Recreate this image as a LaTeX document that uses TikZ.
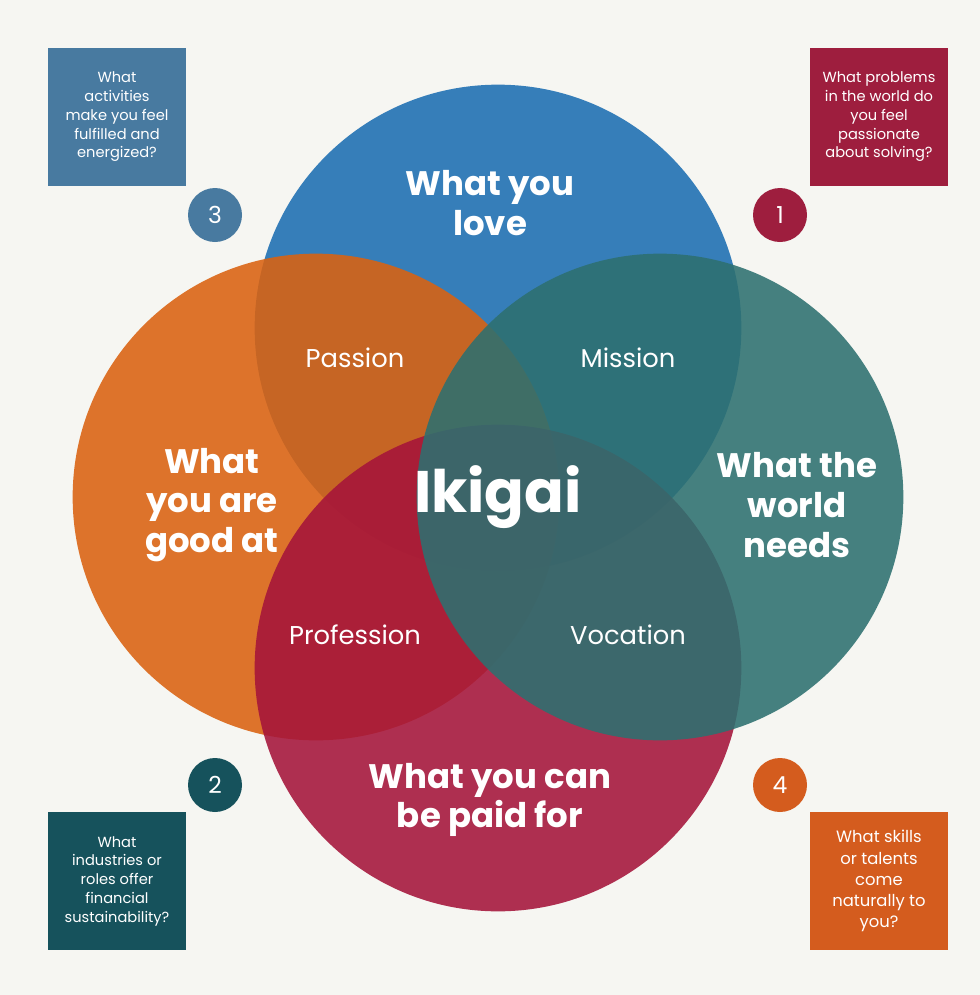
\documentclass[tikz,border=0pt]{standalone}
\usepackage{fontspec}
\setmainfont{Poppins}
\usetikzlibrary{positioning}
\definecolor{bgpaper}{RGB}{246,246,242}
\definecolor{loveblue}{RGB}{28,110,178}
\definecolor{goodorange}{RGB}{218,98,16}
\definecolor{needteal}{RGB}{45,112,112}
\definecolor{paidred}{RGB}{165,20,58}
\definecolor{boxsteel}{RGB}{72,122,160}
\definecolor{boxcrimson}{RGB}{158,30,62}
\definecolor{boxteal}{RGB}{22,82,92}
\definecolor{boxorange}{RGB}{212,92,30}

\begin{document}
\begin{tikzpicture}[
    x=0.03cm, y=-0.03cm,
    area/.style={circle, minimum size=14.6cm, fill opacity=0.88, text opacity=1},
    bigtext/.style={text=white, font=\fontsize{29}{34}\selectfont\bfseries, align=center},
    midtext/.style={text=white, font=\fontsize{22}{26}\selectfont},
    question/.style={text=white, minimum size=4.14cm, align=center, font=\fontsize{12.5}{16}\selectfont},
    badge/.style={circle, minimum size=1.62cm, text=white, font=\fontsize{20}{24}\selectfont}
]
\fill[bgpaper] (0,0) rectangle (980,995);

% four circles
\node[area, fill=loveblue] (love) at (498,328) {};
\node[area, fill=goodorange] (good) at (316,497) {};
\node[area, fill=paidred] (paid) at (498,668) {};
\node[area, fill=needteal] (need) at (660,497) {};

% circle texts
\node[bigtext] (lovetxt) at (490,203) {What you\\love};
\node[bigtext] (goodtxt) at (212,505) {What\\you are\\good at};
\node[bigtext] (needtxt) at (797,505) {What the\\world\\needs};
\node[bigtext] (paidtxt) at (490,800) {What you can\\be paid for};
\node[midtext] (passion) at (355,358) {Passion};
\node[midtext] (mission) at (628,358) {Mission};
\node[midtext] (profession) at (355,635) {Profession};
\node[midtext] (vocation) at (628,635) {Vocation};
\node[text=white, font=\fontsize{50}{54}\selectfont\bfseries] (ikigai) at (498,497) {Ikigai};

% question boxes
\node[question, fill=boxsteel] (q3) at (117,117) {What\\activities\\make you feel\\fulfilled and\\energized?};
\node[question, fill=boxcrimson] (q1) at (879,117) {What problems\\in the world do\\you feel\\passionate\\about solving?};
\node[question, fill=boxteal] (q2) at (117,881) {What\\industries or\\roles offer\\financial\\sustainability?};
\node[question, fill=boxorange, font=\fontsize{14}{18}\selectfont] (q4) at (879,881) {What skills\\or talents\\come\\naturally to\\you?};

% numbers
\node[badge, fill=boxsteel] (n3) at (215,215) {3};
\node[badge, fill=boxcrimson] (n1) at (780,215) {1};
\node[badge, fill=boxteal] (n2) at (215,785) {2};
\node[badge, fill=boxorange] (n4) at (780,785) {4};
\end{tikzpicture}
\end{document}
